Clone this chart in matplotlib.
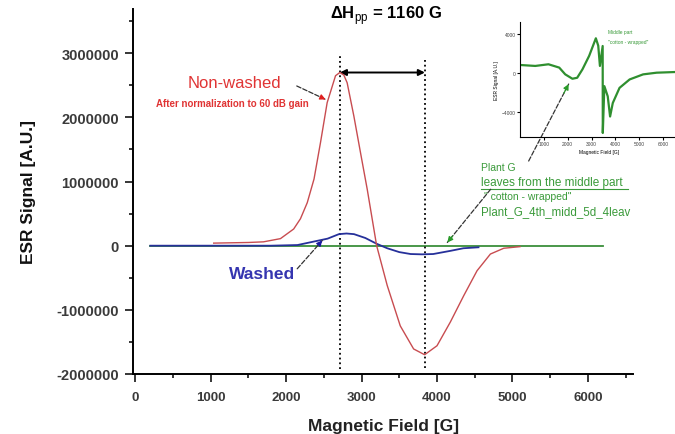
import numpy as np
import matplotlib
matplotlib.use("Agg")
import matplotlib.pyplot as plt
from matplotlib.ticker import FuncFormatter, MultipleLocator

plt.rcParams["font.family"] = ["Liberation Sans", "DejaVu Sans"]
plt.rcParams["mathtext.fontset"] = "custom"
plt.rcParams["mathtext.rm"] = "Liberation Sans"

# Non-washed sample (after normalization to 60 dB gain)
red_field = [1040, 1500, 1700, 1925, 2100, 2190, 2280, 2370, 2456, 2544, 2655, 2712,
             2765, 2809, 2898, 2986, 3075, 3200, 3340, 3513, 3690, 3836, 4000, 4177,
             4354, 4531, 4708, 4885, 5100]
red_signal = [0.04, 0.05, 0.06, 0.11, 0.26, 0.42, 0.67, 1.04, 1.61, 2.23, 2.65, 2.70,
              2.66, 2.54, 2.02, 1.45, 0.88, 0.0, -0.62, -1.25, -1.61, -1.70, -1.56, -1.19,
              -0.78, -0.39, -0.13, -0.04, -0.015]

# Washed sample
blue_field = [200, 1000, 1800, 2150, 2350, 2550, 2700, 2800, 2900, 3050, 3200, 3340,
              3500, 3650, 3800, 3950, 4180, 4350, 4550]
blue_signal = [0.0, 0.0, 0.0, 0.01, 0.06, 0.11, 0.18, 0.19, 0.18, 0.12, 0.03, -0.04,
               -0.10, -0.13, -0.135, -0.13, -0.08, -0.04, -0.025]

# Plant G, leaves from the middle part
green_field = [200, 6200]
green_signal = [0.0, 0.0]

# Inset spectrum (Plant G middle part)
inset_field = [0, 650, 1200, 1650, 1900, 2200, 2400, 2620, 2900, 3180, 3280, 3350,
               3465, 3470, 3535, 3676, 3775, 3887, 4169, 4592, 5155, 5718, 6500]
inset_signal = [860, 760, 930, 590, -100, -550, -450, 410, 1790, 3590, 2830, 760,
                2800, -6100, -1310, -2345, -4414, -3034, -1483, -621, -103, 69, 138]

peak_field = 2712
trough_field = 3840

red_signal = np.array(red_signal) * 1e6
blue_signal = np.array(blue_signal) * 1e6
green_signal = np.array(green_signal) * 1e6


def int_fmt(x, _):
    return f"{int(round(x))}"


fig = plt.figure(figsize=(6.75, 4.35), dpi=100)
ax = fig.add_axes([0.197, 0.138, 0.741, 0.839])

ax.plot(green_field, green_signal, color="#3a8f3a", lw=1.3, zorder=2)
ax.plot(blue_field, blue_signal, color="#26309a", lw=1.3, zorder=3)
ax.plot(red_field, red_signal, color="#c84c50", lw=1.0, zorder=4)

# peak-to-peak markers
ax.vlines(peak_field, -1.93e6, 2.95e6, colors="black", linestyles=":", lw=1.3)
ax.vlines(trough_field, -1.90e6, 2.90e6, colors="black", linestyles=":", lw=1.3)
ax.annotate("", xy=(peak_field, 2.70e6), xytext=(trough_field, 2.70e6),
            arrowprops=dict(arrowstyle="<|-|>", color="black", lw=1.4,
                            mutation_scale=9, shrinkA=0, shrinkB=0))
ax.text(3330, 3.61e6, r"ΔH$_{\rm pp}$ = 1160 G", ha="center", va="center",
        fontsize=12, fontweight="bold")

# labels for curves
ax.text(1316, 2.55e6, "Non-washed", color="#e03434", fontsize=12,
        ha="center", va="center")
ax.text(1290, 2.22e6, "After normalization to 60 dB gain", color="#e03434",
        fontsize=7, fontweight="bold", ha="center", va="center")
ax.text(1683, -0.44e6, "Washed", color="#3535b0", fontsize=12.5,
        fontweight="bold", ha="center", va="center")

green_txt = "#3a9a3a"
ax.text(4578, 1.226e6, "Plant G", color=green_txt, fontsize=7.5, ha="left", va="center")
ax.text(4578, 0.99e6, "leaves from the middle part", color=green_txt, fontsize=8.5,
        ha="left", va="center")
ax.plot([4578, 6528], [0.88e6, 0.88e6], color=green_txt, lw=0.8, clip_on=False)
ax.text(4618, 0.774e6, "\" cotton - wrapped\"", color=green_txt, fontsize=7.5,
        ha="left", va="center")
ax.text(4578, 0.54e6, "Plant_G_4th_midd_5d_4leav", color=green_txt, fontsize=8.3,
        ha="left", va="center")


def pointer(start, end, head_color):
    ax.annotate("", xy=end, xytext=start,
                arrowprops=dict(arrowstyle="-", color="#333333", lw=0.9,
                                ls="--", shrinkA=0, shrinkB=0), zorder=6,
                annotation_clip=False)
    sx = start[0] + 0.88 * (end[0] - start[0])
    sy = start[1] + 0.88 * (end[1] - start[1])
    ax.annotate("", xy=end, xytext=(sx, sy),
                arrowprops=dict(arrowstyle="-|>", color=head_color, lw=0.9,
                                mutation_scale=8, shrinkA=0, shrinkB=0), zorder=6,
                annotation_clip=False)


pointer((2141, 2.49e6), (2523, 2.28e6), "#e02020")
pointer((2147, -0.36e6), (2479, 0.08e6), "#1a1aa0")
pointer((4711, 0.88e6), (4137, 0.05e6), "#2a9a2a")
pointer((5215, 1.32e6), (5745, 2.52e6), "#2a9a2a")

ax.set_xlim(-30, 6600)
ax.set_ylim(-2.0e6, 3.69e6)
ax.xaxis.set_major_locator(MultipleLocator(1000))
ax.xaxis.set_minor_locator(MultipleLocator(500))
ax.yaxis.set_major_locator(MultipleLocator(1e6))
ax.yaxis.set_minor_locator(MultipleLocator(5e5))
ax.xaxis.set_major_formatter(FuncFormatter(int_fmt))
ax.yaxis.set_major_formatter(FuncFormatter(int_fmt))
ax.tick_params(which="major", direction="out", length=6, width=1.1,
               labelcolor="#3a3a3a")
ax.tick_params(axis="x", which="major", labelsize=9.5, pad=6)
ax.tick_params(axis="y", which="major", labelsize=10.5, pad=4)
ax.tick_params(which="minor", direction="out", length=3, width=1.1)
for lab in ax.get_xticklabels() + ax.get_yticklabels():
    lab.set_fontweight("bold")
ax.spines["top"].set_visible(False)
ax.spines["right"].set_visible(False)
ax.spines["left"].set_linewidth(1.4)
ax.spines["bottom"].set_linewidth(1.4)
ax.set_xlabel("Magnetic Field [G]", fontsize=12.5, fontweight="bold", color="#222222",
              labelpad=11)
ax.set_ylabel("ESR Signal [A.U.]", fontsize=12.5, fontweight="bold", color="#111111",
              labelpad=15)

# inset
ins = fig.add_axes([0.770, 0.683, 0.234, 0.264])
ins.patch.set_alpha(0)
ins.plot(inset_field, inset_signal, color="#2f8f2f", lw=1.6)
ins.set_xlim(0, 6600)
ins.set_ylim(-6500, 5250)
ins.set_xticks([1000, 2000, 3000, 4000, 5000, 6000])
ins.set_yticks([-4000, 0, 4000])
ins.tick_params(direction="out", length=2, width=0.8, labelsize=3.5, pad=1,
                labelcolor="#444444")
ins.spines["top"].set_visible(False)
ins.spines["right"].set_visible(False)
ins.set_xlabel("Magnetic Field [G]", fontsize=3.5, labelpad=2)
ins.set_ylabel("ESR Signal [A.U.]", fontsize=3.5, labelpad=2)
ins.text(3700, 4300, "Middle part", color=green_txt, fontsize=3.5, ha="left", va="center")
ins.text(3700, 3300, "\"cotton - wrapped\"", color=green_txt, fontsize=3.5,
         ha="left", va="center")

fig.savefig("out.png", dpi=100)
